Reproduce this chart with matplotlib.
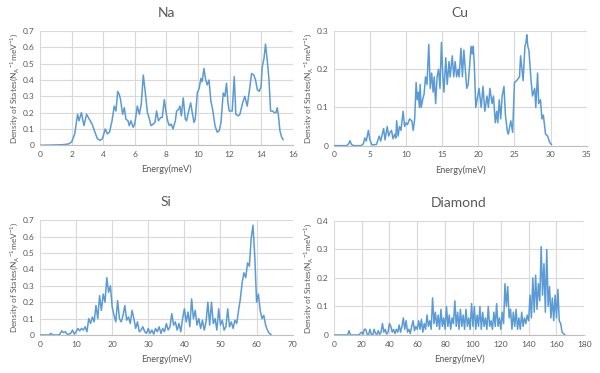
import numpy as np
import matplotlib
matplotlib.use("Agg")
import matplotlib.pyplot as plt
from matplotlib.ticker import FuncFormatter

plt.rcParams["font.family"] = ["Lato", "DejaVu Sans"]

# ---- data ----
na_energy = [0, 0.5, 1.0, 1.5, 1.8, 2.0, 2.2, 2.38, 2.47, 2.62, 2.78, 2.95, 3.12,
             3.3, 3.44, 3.63, 3.8, 3.95, 4.13, 4.26, 4.4, 4.56, 4.7, 4.81, 4.92,
             5.02, 5.1, 5.23, 5.34, 5.44, 5.57, 5.65, 5.76, 5.9, 6.0, 6.16, 6.29,
             6.41, 6.54, 6.67, 6.8, 6.9, 7.03, 7.17, 7.28, 7.38, 7.5, 7.64, 7.74,
             7.87, 7.97, 8.08, 8.19, 8.31, 8.42, 8.57, 8.65, 8.78, 8.86, 8.95,
             9.07, 9.2, 9.28, 9.39, 9.54, 9.64, 9.75, 9.83, 9.96, 10.08, 10.19,
             10.27, 10.38, 10.49, 10.59, 10.7, 10.82, 10.93, 11.08, 11.22, 11.35,
             11.46, 11.6, 11.71, 11.81, 11.9, 11.98, 12.17, 12.3, 12.4, 12.55,
             12.66, 12.83, 12.97, 13.12, 13.25, 13.4, 13.54, 13.65, 13.76, 13.88,
             14.0, 14.07, 14.18, 14.28, 14.41, 14.5, 14.6, 14.73, 14.83, 14.94,
             15.02, 15.1, 15.19, 15.3, 15.4]
na_dos = [0.0, 0.001, 0.002, 0.004, 0.008, 0.02, 0.07, 0.19, 0.15, 0.20, 0.12,
          0.19, 0.16, 0.13, 0.09, 0.04, 0.03, 0.04, 0.10, 0.07, 0.08, 0.15, 0.24,
          0.21, 0.33, 0.31, 0.28, 0.19, 0.23, 0.16, 0.15, 0.12, 0.15, 0.11, 0.13,
          0.24, 0.19, 0.25, 0.43, 0.32, 0.20, 0.17, 0.12, 0.13, 0.14, 0.21, 0.15,
          0.17, 0.17, 0.28, 0.21, 0.15, 0.12, 0.13, 0.10, 0.15, 0.21, 0.22, 0.24,
          0.18, 0.29, 0.16, 0.15, 0.20, 0.26, 0.20, 0.14, 0.16, 0.32, 0.35, 0.41,
          0.39, 0.47, 0.40, 0.37, 0.40, 0.27, 0.22, 0.12, 0.08, 0.09, 0.14, 0.32,
          0.30, 0.38, 0.26, 0.21, 0.21, 0.42, 0.19, 0.18, 0.19, 0.26, 0.30, 0.24,
          0.33, 0.44, 0.43, 0.40, 0.34, 0.33, 0.36, 0.48, 0.53, 0.62, 0.50, 0.40,
          0.21, 0.21, 0.20, 0.20, 0.23, 0.18, 0.09, 0.05, 0.035]

cu_energy = [0, 1.8, 2.1, 2.25, 2.45, 2.8, 3.8, 4.1, 4.3, 4.5, 4.8, 5.0, 5.3,
             5.9, 6.3, 6.5, 6.9, 7.1, 7.4, 7.6, 7.8, 8.0, 8.2, 8.45, 8.6, 8.7,
             8.9, 9.1, 9.3, 9.6, 9.8, 10.0, 10.2, 10.5, 10.8, 11.0, 11.2, 11.4,
             11.55, 11.7, 11.85, 11.95, 12.1, 12.3, 12.5, 12.7, 12.9, 13.15,
             13.35, 13.55, 13.75, 13.9, 14.1, 14.3, 14.5, 14.7, 14.9, 15.1,
             15.25, 15.5, 15.7, 15.95, 16.1, 16.4, 16.6, 16.8, 17.0, 17.2, 17.35,
             17.6, 17.8, 18.0, 18.2, 18.4, 18.6, 18.8, 19.0, 19.15, 19.3, 19.45,
             19.65, 20.1, 20.4, 20.65, 20.9, 21.2, 21.4, 21.6, 21.9, 22.1, 22.35,
             22.55, 22.7, 22.9, 23.1, 23.3, 23.55, 23.75, 24.0, 24.15, 24.5,
             24.75, 25.0, 25.3, 25.7, 25.85, 26.2, 26.45, 26.6, 26.7, 26.85, 27.0,
             27.3, 27.5, 27.8, 27.95, 28.2, 28.35, 28.6, 28.8, 29.0, 29.3, 29.6,
             29.85, 30.1]
cu_dos = [0, 0, 0.006, 0.013, 0.003, 0, 0, 0.005, 0.02, 0.012, 0.04, 0.015,
          0.002, 0.003, 0.025, 0.012, 0.045, 0.015, 0.05, 0.025, 0.035, 0.04,
          0.018, 0.03, 0.02, 0.065, 0.025, 0.05, 0.04, 0.09, 0.05, 0.06, 0.055,
          0.07, 0.065, 0.04, 0.07, 0.165, 0.12, 0.14, 0.10, 0.16, 0.10, 0.12,
          0.135, 0.18, 0.16, 0.265, 0.15, 0.19, 0.14, 0.18, 0.11, 0.18, 0.20,
          0.15, 0.27, 0.18, 0.14, 0.23, 0.16, 0.22, 0.18, 0.235, 0.18, 0.22,
          0.18, 0.20, 0.18, 0.255, 0.18, 0.25, 0.20, 0.15, 0.16, 0.21, 0.26,
          0.24, 0.26, 0.21, 0.10, 0.15, 0.10, 0.155, 0.09, 0.13, 0.10, 0.15,
          0.11, 0.13, 0.06, 0.09, 0.06, 0.12, 0.07, 0.13, 0.155, 0.08, 0.04,
          0.03, 0.065, 0.035, 0.165, 0.17, 0.18, 0.235, 0.17, 0.26, 0.27, 0.29,
          0.26, 0.25, 0.17, 0.13, 0.15, 0.10, 0.19, 0.11, 0.12, 0.07, 0.08,
          0.03, 0.025, 0.01, 0.003]

# Si sampled every 0.5 meV from 0
si_step = 0.5
si_dos = [
    0, 0, 0, 0, 0, 0, 0.01, 0, 0, 0,
    0, 0.005, 0.025, 0.015, 0.02, 0.005, 0.005, 0.01, 0.03, 0.005,
    0.02, 0.04, 0.025, 0.04, 0.03, 0.05, 0.02, 0.10, 0.07, 0.11,
    0.08, 0.18, 0.10, 0.24, 0.15, 0.25, 0.20, 0.35, 0.26, 0.30,
    0.17, 0.12, 0.08, 0.21, 0.10, 0.08, 0.12, 0.18, 0.09, 0.11,
    0.07, 0.15, 0.10, 0.04, 0.08, 0.02, 0.03, 0.05, 0.02, 0.01,
    0.04, 0.01, 0.03, 0.005, 0.04, 0.02, 0.05, 0.01, 0.04, 0.02,
    0.07, 0.03, 0.05, 0.13, 0.06, 0.08, 0.03, 0.07, 0.02, 0.10,
    0.16, 0.08, 0.14, 0.05, 0.22, 0.10, 0.15, 0.06, 0.10, 0.04,
    0.09, 0.03, 0.08, 0.20, 0.06, 0.20, 0.07, 0.10, 0.03, 0.16,
    0.06, 0.09, 0.03, 0.05, 0.16, 0.05, 0.08, 0.04, 0.09, 0.07,
    0.15, 0.22, 0.32, 0.38, 0.35, 0.44, 0.42, 0.59, 0.67, 0.48,
    0.20, 0.25, 0.15, 0.10, 0.12, 0.06, 0.03, 0.01, 0.003,
]

# Diamond sampled every 1 meV from 0
dia_step = 1.0
dia_dos = [
    0, 0, 0, 0, 0, 0, 0, 0, 0, 0,
    0, 0.015, 0, 0, 0, 0, 0, 0, 0, 0.005,
    0.01, 0.002, 0.02, 0.02, 0.002, 0, 0.02, 0.002, 0, 0.02,
    0.005, 0.002, 0.015, 0.002, 0.01, 0.04, 0.01, 0.02, 0.003, 0.01,
    0.04, 0.03, 0.01, 0.02, 0.005, 0.02, 0.01, 0.035, 0.01, 0.03,
    0.06, 0.02, 0.05, 0.01, 0.02, 0.005, 0.03, 0.05, 0.015, 0.03,
    0.02, 0.05, 0.02, 0.055, 0.01, 0.04, 0.02, 0.07, 0.03, 0.05,
    0.02, 0.13, 0.04, 0.08, 0.03, 0.07, 0.02, 0.09, 0.03, 0.06,
    0.02, 0.10, 0.03, 0.07, 0.02, 0.06, 0.04, 0.12, 0.03, 0.08,
    0.02, 0.09, 0.03, 0.07, 0.02, 0.09, 0.03, 0.06, 0.02, 0.11,
    0.03, 0.10, 0.02, 0.07, 0.03, 0.10, 0.02, 0.08, 0.03, 0.06,
    0.02, 0.10, 0.03, 0.05, 0.02, 0.08, 0.03, 0.11, 0.03, 0.06,
    0.02, 0.08, 0.04, 0.18, 0.10, 0.17, 0.06, 0.09, 0.02, 0.08,
    0.03, 0.09, 0.02, 0.06, 0.02, 0.08, 0.03, 0.06, 0.04, 0.07,
    0.05, 0.14, 0.06, 0.20, 0.08, 0.21, 0.09, 0.18, 0.12, 0.31,
    0.14, 0.25, 0.08, 0.30, 0.10, 0.17, 0.06, 0.13, 0.05, 0.14,
    0.06, 0.16, 0.05, 0.04, 0.01, 0.005, 0,
]

si_energy = np.arange(len(si_dos)) * si_step
dia_energy = np.arange(len(dia_dos)) * dia_step

panels = [
    # title, x, y, xmax, xstep, ymax, ystep, axes rect
    ("Na", na_energy, na_dos, 16, 2, 0.7, 0.1, [0.0667, 0.6105, 0.4211, 0.3064]),
    ("Cu", cu_energy, cu_dos, 35, 5, 0.3, 0.1, [0.5562, 0.6095, 0.4217, 0.3074]),
    ("Si", si_energy, si_dos, 70, 10, 0.7, 0.1, [0.0667, 0.1019, 0.4211, 0.3075]),
    ("Diamond", dia_energy, dia_dos, 180, 20, 0.4, 0.1, [0.5562, 0.1019, 0.4177, 0.3056]),
]

line_color = "#5B9BD5"
text_color = "#595959"
grid_color = "#D9D9D9"


def fmt_num(v, pos):
    s = f"{v:.1f}"
    if s.endswith(".0"):
        s = s[:-2]
    return s


fig = plt.figure(figsize=(6.0, 3.73), dpi=100)

for title, x, y, xmax, xstep, ymax, ystep, rect in panels:
    ax = fig.add_axes(rect)
    ax.plot(x, y, color=line_color, linewidth=1.1)
    ax.set_xlim(0, xmax)
    ax.set_ylim(0, ymax)
    ax.set_xticks(np.arange(0, xmax + xstep / 2, xstep))
    ax.set_yticks(np.arange(0, ymax + ystep / 2, ystep))
    ax.yaxis.set_major_formatter(FuncFormatter(fmt_num))
    ax.xaxis.set_major_formatter(FuncFormatter(fmt_num))
    ax.grid(True, color=grid_color, linewidth=0.8)
    ax.set_axisbelow(True)
    for side in ["top", "right", "left"]:
        ax.spines[side].set_visible(False)
    ax.spines["bottom"].set_color("#BFBFBF")
    ax.spines["bottom"].set_linewidth(0.8)
    ax.tick_params(length=0, labelsize=6, colors=text_color, pad=4)
    ax.set_title(title, fontsize=10, color=text_color, pad=10)
    ax.set_xlabel("Energy(meV)", fontsize=6.5, color=text_color, labelpad=5)
    ax.set_ylabel(r"Density of States(N$_\mathregular{A}$$^\mathregular{-1}$meV$^\mathregular{-1}$)",
                  fontsize=6, color=text_color, labelpad=1)

fig.savefig("out.png", dpi=100, facecolor="white")
